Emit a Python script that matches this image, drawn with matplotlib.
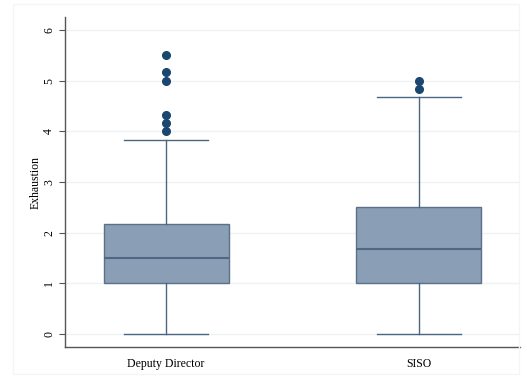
import matplotlib.pyplot as plt
from matplotlib.patches import Rectangle

# Five-number summaries and outliers per group
groups = ['Deputy Director', 'SISO']
lower_whisker = [0.0, 0.0]
q1 = [1.0, 1.0]
median = [1.5, 1.67]
q3 = [2.17, 2.5]
upper_whisker = [3.83, 4.67]
outliers = [[5.5, 5.17, 5.0, 4.33, 4.17, 4.0], [5.0, 4.83]]

plt.rcParams['font.family'] = ['Liberation Serif', 'DejaVu Serif']

fig = plt.figure(figsize=(5.27, 3.78), dpi=100)
ax = fig.add_axes([0.1233, 0.082, 0.8634, 0.873])

stats = []
for i, g in enumerate(groups):
    stats.append({
        'label': g,
        'whislo': lower_whisker[i],
        'q1': q1[i],
        'med': median[i],
        'q3': q3[i],
        'whishi': upper_whisker[i],
        'fliers': outliers[i],
    })

ax.bxp(stats, positions=[1, 2], widths=0.495, capwidths=0.33,
       patch_artist=True, showfliers=True,
       boxprops=dict(facecolor='#8a9fb5', edgecolor='#5b7189', linewidth=1.0),
       medianprops=dict(color='#4f6782', linewidth=1.5),
       whiskerprops=dict(color='#4a6680', linewidth=1.0),
       capprops=dict(color='#4a6680', linewidth=1.0),
       flierprops=dict(marker='o', markersize=5.5, markerfacecolor='#1a476f',
                       markeredgecolor='#1a476f'))

ax.set_xlim(0.6, 2.4)
ax.set_ylim(-0.26, 6.26)
ax.set_yticks(range(0, 7))
ax.set_yticklabels([str(v) for v in range(0, 7)], rotation=90, va='center', fontsize=8.5)
ax.tick_params(axis='y', length=4, color='#555555', pad=3)
ax.tick_params(axis='x', length=0, labelsize=8.5, pad=8)
ax.set_ylabel('Exhaustion', fontsize=8.5, labelpad=1)

ax.yaxis.grid(True, color='#eef2f4', linewidth=1.0)
ax.set_axisbelow(True)

for side in ['top', 'right']:
    ax.spines[side].set_visible(False)
for side in ['left', 'bottom']:
    ax.spines[side].set_color('#555555')
    ax.spines[side].set_linewidth(1.0)

# faint border around the graph region
fig.patches.append(Rectangle((13 / 527, 0.01), 0.985 - 13 / 527, 0.98,
                             transform=fig.transFigure, fill=False,
                             edgecolor='#f5f5f5', linewidth=1.0))

fig.savefig('out.png', dpi=100)
